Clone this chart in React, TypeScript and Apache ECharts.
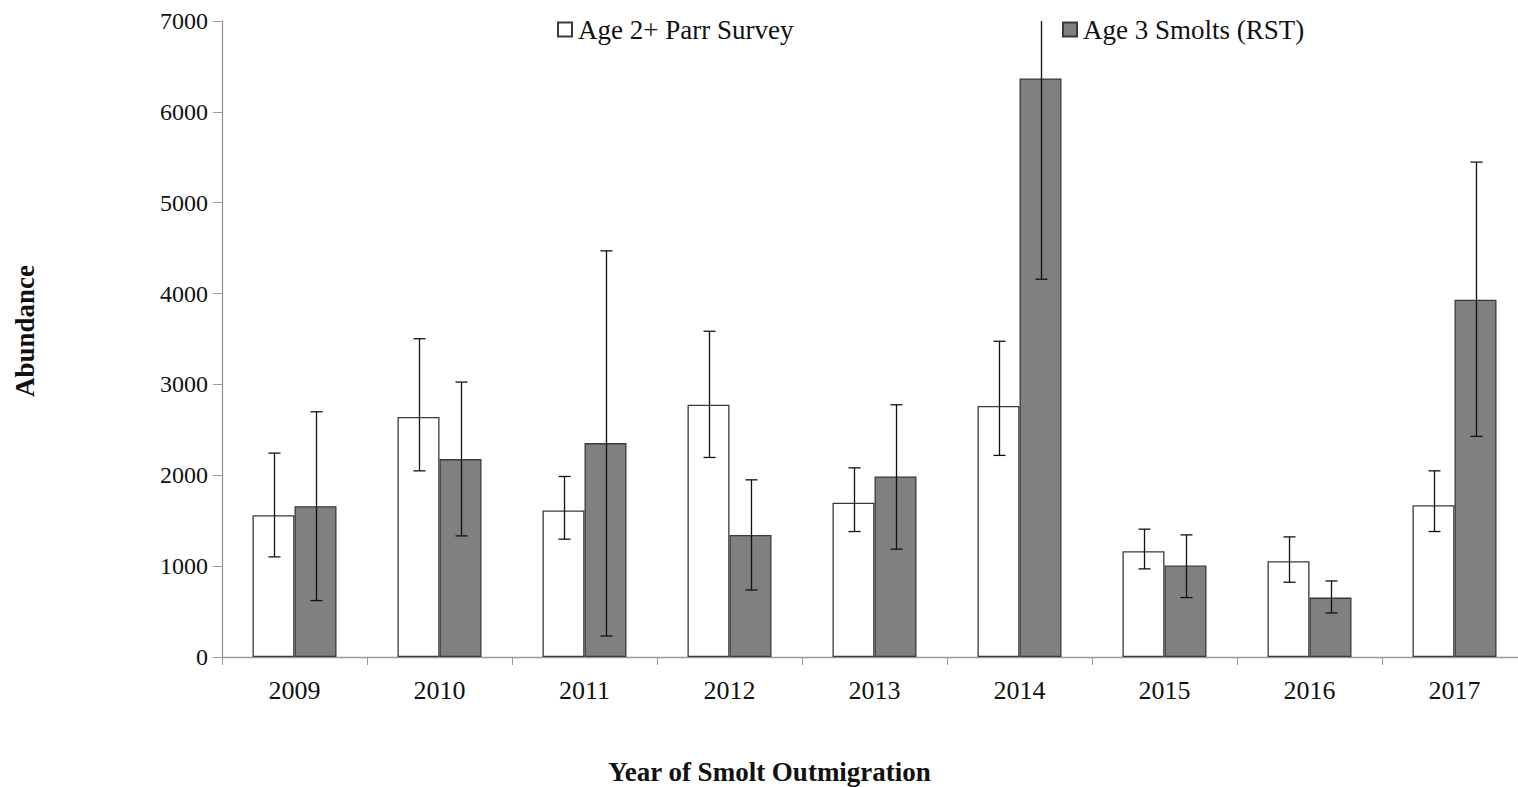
import React, { useEffect, useRef } from "react";
import * as echarts from "echarts";

const years = ["2009", "2010", "2011", "2012", "2013", "2014", "2015", "2016", "2017"];
const parrName = "Age 2+ Parr Survey";
const smoltName = "Age 3 Smolts (RST)";
const parrValues = [1561, 2641, 1613, 2776, 1697, 2763, 1164, 1054, 1671];
const parrHigh = [2244, 3503, 1987, 3585, 2082, 3475, 1407, 1322, 2049];
const parrLow = [1102, 2049, 1297, 2196, 1381, 2219, 970, 823, 1381];
const smoltValues = [1660, 2178, 2354, 1344, 1987, 6368, 1007, 654, 3933];
const smoltHigh = [2699, 3026, 4470, 1950, 2776, 8578, 1344, 837, 5447];
const smoltLow = [621, 1333, 231, 738, 1187, 4158, 654, 485, 2428];
const yMin = 0;
const yMax = 7000;
const yStep = 1000;

const FONT = "Liberation Serif";
const BAR_W = 42;

function errorSeries(name: string, low: number[], high: number[], sign: number) {
  return {
    type: "custom",
    name: name + " error",
    z: 5,
    silent: true,
    data: years.map((_, i) => [i, low[i], high[i]]),
    renderItem: (params: any, api: any) => {
      const idx = api.value(0);
      const lo = api.value(1);
      const hiRaw = api.value(2);
      const clipped = hiRaw > yMax;
      const hi = clipped ? yMax : hiRaw;
      const pLo = api.coord([idx, lo]);
      const pHi = api.coord([idx, hi]);
      const x = Math.round(pLo[0] + (sign * BAR_W) / 2) + 0.5;
      const cap = 6;
      const style = { stroke: "#111", lineWidth: 1.3 };
      const children: any[] = [
        { type: "line", shape: { x1: x, y1: pLo[1], x2: x, y2: pHi[1] }, style },
        { type: "line", shape: { x1: x - cap, y1: pLo[1], x2: x + cap, y2: pLo[1] }, style },
      ];
      if (!clipped) {
        children.push({ type: "line", shape: { x1: x - cap, y1: pHi[1], x2: x + cap, y2: pHi[1] }, style });
      }
      return { type: "group", children };
    },
  };
}

export default function App() {
  const ref = useRef<HTMLDivElement>(null);
  useEffect(() => {
    if (!ref.current) return;
    const chart = echarts.init(ref.current, undefined, { renderer: "svg" });
    const legendText = { fontFamily: FONT, fontSize: 27, color: "#111", padding: [0, 0, 0, 1] };
    chart.setOption({
      animation: false,
      backgroundColor: "#ffffff",
      textStyle: { fontFamily: FONT },
      legend: [
        {
          data: [parrName],
          left: 552,
          top: 11,
          icon: "rect",
          itemWidth: 14,
          itemHeight: 14,
          itemGap: 0,
          textStyle: legendText,
          selectedMode: false,
        },
        {
          data: [smoltName],
          left: 1057,
          top: 11,
          icon: "rect",
          itemWidth: 14,
          itemHeight: 14,
          itemGap: 0,
          textStyle: legendText,
          selectedMode: false,
        },
      ],
      grid: { left: 222, top: 21, width: 1305, height: 636, containLabel: false, outerBoundsMode: "none" },
      xAxis: {
        type: "category",
        data: years,
        name: "Year of Smolt Outmigration",
        nameLocation: "middle",
        nameGap: 101,
        nameTextStyle: {
          fontFamily: FONT,
          fontSize: 27,
          fontWeight: "bold",
          color: "#111",
          padding: [0, 210, 0, 0],
        },
        axisLine: { lineStyle: { color: "#9a9a9a", width: 1.3 } },
        axisTick: { show: true, length: 8, lineStyle: { color: "#9a9a9a" } },
        axisLabel: { fontFamily: FONT, fontSize: 26, color: "#111", margin: 20 },
      },
      yAxis: {
        type: "value",
        min: yMin,
        max: yMax,
        interval: yStep,
        name: "Abundance",
        nameLocation: "middle",
        nameGap: 184,
        nameRotate: 90,
        nameTextStyle: {
          fontFamily: FONT,
          fontSize: 27,
          fontWeight: "bold",
          color: "#111",
          padding: [0, 0, 0, 16],
        },
        axisLine: { show: true, lineStyle: { color: "#9a9a9a", width: 1.3 } },
        axisTick: { show: true, length: 9, lineStyle: { color: "#9a9a9a" } },
        splitLine: { show: false },
        axisLabel: {
          fontFamily: FONT,
          fontSize: 24,
          color: "#111",
          margin: 14,
          formatter: (v: number) => String(v),
        },
      },
      series: [
        {
          type: "bar",
          name: parrName,
          data: parrValues,
          barWidth: BAR_W,
          barGap: "0%",
          itemStyle: { color: "#ffffff", borderColor: "#3a3a3a", borderWidth: 1.3 },
        },
        {
          type: "bar",
          name: smoltName,
          data: smoltValues,
          barWidth: BAR_W,
          barGap: "0%",
          itemStyle: { color: "#808080", borderColor: "#3a3a3a", borderWidth: 1.3 },
        },
        errorSeries(parrName, parrLow, parrHigh, -1),
        errorSeries(smoltName, smoltLow, smoltHigh, 1),
      ],
    });
    return () => chart.dispose();
  }, []);
  return <div ref={ref} style={{ width: 1518, height: 787, position: "absolute", left: 0, top: 0 }} />;
}
